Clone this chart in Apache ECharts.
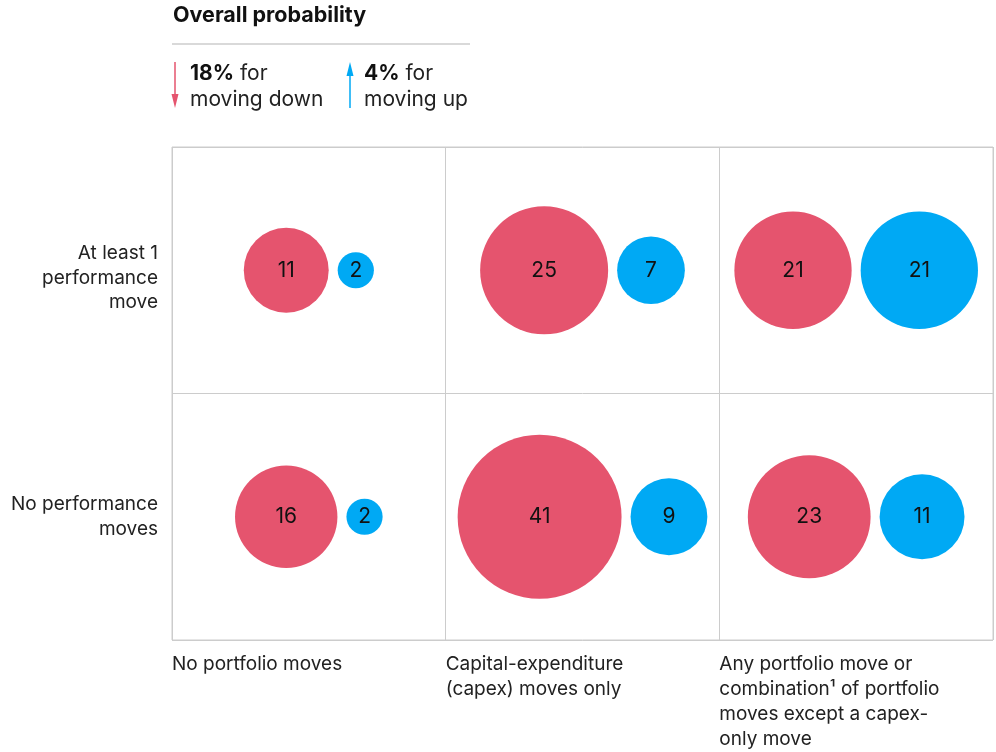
<!DOCTYPE html>
<html><head><meta charset="utf-8">
<script src="https://cdn.jsdelivr.net/npm/echarts@6/dist/echarts.min.js"></script>
<style>html,body{margin:0;padding:0;background:#fff}#c{width:996px;height:752px}</style>
</head><body><div id="c"></div>
<script>
var columnLabels = ['No portfolio moves', 'Capital-expenditure\n(capex) moves only', 'Any portfolio move or\ncombination¹ of portfolio\nmoves except a capex-\nonly move'];
var rowLabels = ['No performance\nmoves', 'At least 1\nperformance\nmove'];
// values per row (index matches rowLabels), per column
var downValues = [[16, 41, 23], [11, 25, 21]];
var upValues = [[2, 9, 11], [2, 7, 21]];
var overallDown = '18%';
var overallUp = '4%';

var RED = '#E5546E', BLUE = '#00A9F4', FONT = 'Inter, "Liberation Sans", sans-serif';
var K = 25.6, GAP = 9;
function diam(v) { return K * Math.sqrt(v); }

var redData = [], blueData = [];
for (var r = 0; r < rowLabels.length; r++) {
  for (var c = 0; c < columnLabels.length; c++) {
    var d = downValues[r][c], u = upValues[r][c];
    var dr = diam(d), db = diam(u);
    redData.push({ value: [c + 0.5, r, d], symbolSize: dr, symbolOffset: [-(GAP + db) / 2, 0] });
    blueData.push({ value: [c + 0.5, r, u], symbolSize: db, symbolOffset: [(GAP + dr) / 2, 0] });
  }
}

var chart = echarts.init(document.getElementById('c'));
var lbl = { show: true, position: 'inside', formatter: function (p) { return p.value[2]; }, color: '#111', fontSize: 21, fontFamily: FONT };
chart.setOption({
  animation: false,
  grid: { left: 172, right: 3, top: 147, bottom: 111, show: true, borderColor: '#cccccc', borderWidth: 1 },
  xAxis: {
    type: 'value', min: 0, max: 3, interval: 1,
    axisLine: { show: false }, axisTick: { show: false },
    splitLine: { show: true, lineStyle: { color: '#cccccc' } },
    axisLabel: {
      align: 'left', verticalAlign: 'top', margin: 12, color: '#222', fontSize: 19, lineHeight: 25, fontFamily: FONT,
      formatter: function (v) { return columnLabels[Math.round(v)] || ''; }
    }
  },
  yAxis: {
    type: 'category', data: rowLabels, boundaryGap: true,
    axisLine: { show: false }, axisTick: { show: false },
    splitLine: { show: true, lineStyle: { color: '#cccccc' } },
    axisLabel: {
      align: 'right', margin: 14, color: '#222', fontSize: 19, lineHeight: 24.5, fontFamily: FONT,
      formatter: function (v, i) { return i === 1 ? '{s| }\n' + v : v; },
      rich: { s: { fontSize: 2, lineHeight: 16 } }
    }
  },
  series: [
    { type: 'scatter', data: redData, itemStyle: { color: RED, opacity: 1 }, label: lbl, emphasis: { disabled: true } },
    { type: 'scatter', data: blueData, itemStyle: { color: BLUE, opacity: 1 }, label: lbl, emphasis: { disabled: true } }
  ],
  graphic: [
    { type: 'text', left: 173, top: 5, style: { text: 'Overall probability', font: 'bold 21.5px ' + FONT, fill: '#111' } },
    { type: 'line', shape: { x1: 172, y1: 44, x2: 470, y2: 44 }, style: { stroke: '#cccccc', lineWidth: 1.5 } },
    { type: 'line', shape: { x1: 175, y1: 62, x2: 175, y2: 96 }, style: { stroke: RED, lineWidth: 1.5 } },
    { type: 'polygon', shape: { points: [[171.5, 94], [178.5, 94], [175, 108]] }, style: { fill: RED } },
    { type: 'line', shape: { x1: 350, y1: 74, x2: 350, y2: 108 }, style: { stroke: BLUE, lineWidth: 1.5 } },
    { type: 'polygon', shape: { points: [[346.5, 76], [353.5, 76], [350, 62]] }, style: { fill: BLUE } },
    { type: 'text', left: 190, top: 61, style: { text: '{b|' + overallDown + '} for\nmoving down', font: '21px ' + FONT, fill: '#222', lineHeight: 26,
      rich: { b: { fontWeight: 'bold', fontSize: 21, fontFamily: FONT, fill: '#111' } } } },
    { type: 'text', left: 364, top: 61, style: { text: '{b|' + overallUp + '} for\nmoving up', font: '21px ' + FONT, fill: '#222', lineHeight: 26,
      rich: { b: { fontWeight: 'bold', fontSize: 21, fontFamily: FONT, fill: '#111' } } } }
  ]
});
</script></body></html>
